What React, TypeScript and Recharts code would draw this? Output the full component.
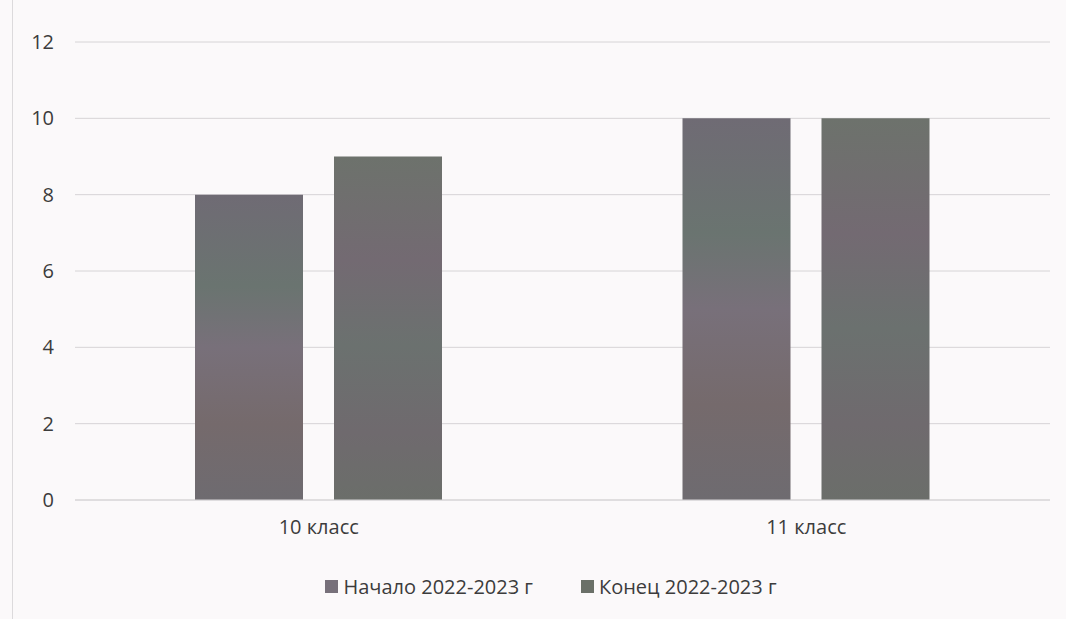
import { BarChart, Bar, XAxis, YAxis, CartesianGrid, Legend } from 'recharts';

const categories = ['10 класс', '11 класс'];
const startValues = [8, 10];
const endValues = [9, 10];
const yTicks = [0, 2, 4, 6, 8, 10, 12];
const seriesNames = ['Начало 2022-2023 г', 'Конец 2022-2023 г'];

const data = categories.map((c, i) => ({
  name: c,
  start: startValues[i],
  end: endValues[i],
}));

const FONT = '"Open Sans", sans-serif';
const TEXT = '#3c3c3c';

function LegendContent() {
  const colors = ['#77707a', '#6a7068'];
  return (
    <div
      style={{
        display: 'flex',
        justifyContent: 'center',
        gap: 48,
        paddingLeft: 36,
        fontFamily: FONT,
        fontSize: 20,
        color: TEXT,
      }}
    >
      {seriesNames.map((n, i) => (
        <span key={n} style={{ display: 'flex', alignItems: 'center', gap: 5 }}>
          <span style={{ width: 13, height: 13, background: colors[i], display: 'inline-block' }} />
          {n}
        </span>
      ))}
    </div>
  );
}

export default function App() {
  return (
    <div
      style={{
        position: 'absolute',
        left: 0,
        top: 0,
        width: 1066,
        height: 619,
        background: '#fbf9fa',
      }}
    >
      <div
        style={{
          position: 'absolute',
          left: 12,
          top: 0,
          width: 1054,
          height: 619,
          borderLeft: '1px solid #dcdadc',
        }}
      />
      <BarChart
        width={1066}
        height={619}
        data={data}
        margin={{ top: 42, right: 16, left: 2, bottom: 47 }}
        barSize={108}
        barGap={31}
      >
        <defs>
          <linearGradient id="startGrad" x1="0" y1="0" x2="0" y2="1">
            <stop offset="0%" stopColor="#6f6b74" />
            <stop offset="30%" stopColor="#6a7470" />
            <stop offset="50%" stopColor="#78707a" />
            <stop offset="75%" stopColor="#756a6c" />
            <stop offset="100%" stopColor="#6e6b70" />
          </linearGradient>
          <linearGradient id="endGrad" x1="0" y1="0" x2="0" y2="1">
            <stop offset="0%" stopColor="#6d726c" />
            <stop offset="30%" stopColor="#736a72" />
            <stop offset="55%" stopColor="#6b716f" />
            <stop offset="80%" stopColor="#6f6a6e" />
            <stop offset="100%" stopColor="#6b6e6a" />
          </linearGradient>
        </defs>
        <CartesianGrid vertical={false} stroke="#d6d4d6" />
        <XAxis
          dataKey="name"
          axisLine={{ stroke: '#d6d4d6' }}
          tickLine={false}
          tickMargin={14}
          height={42}
          tick={{ fill: TEXT, fontSize: 20, fontFamily: FONT }}
        />
        <YAxis
          domain={[0, 12]}
          ticks={yTicks}
          width={73}
          axisLine={false}
          tickLine={false}
          tickMargin={15}
          tick={{ fill: TEXT, fontSize: 20, fontFamily: FONT }}
        />
        <Legend
          height={30}
          content={<LegendContent />}
          wrapperStyle={{ top: 573, left: 0, width: 1066 }}
        />
        <Bar dataKey="start" name={seriesNames[0]} fill="url(#startGrad)" isAnimationActive={false} />
        <Bar dataKey="end" name={seriesNames[1]} fill="url(#endGrad)" isAnimationActive={false} />
      </BarChart>
    </div>
  );
}
